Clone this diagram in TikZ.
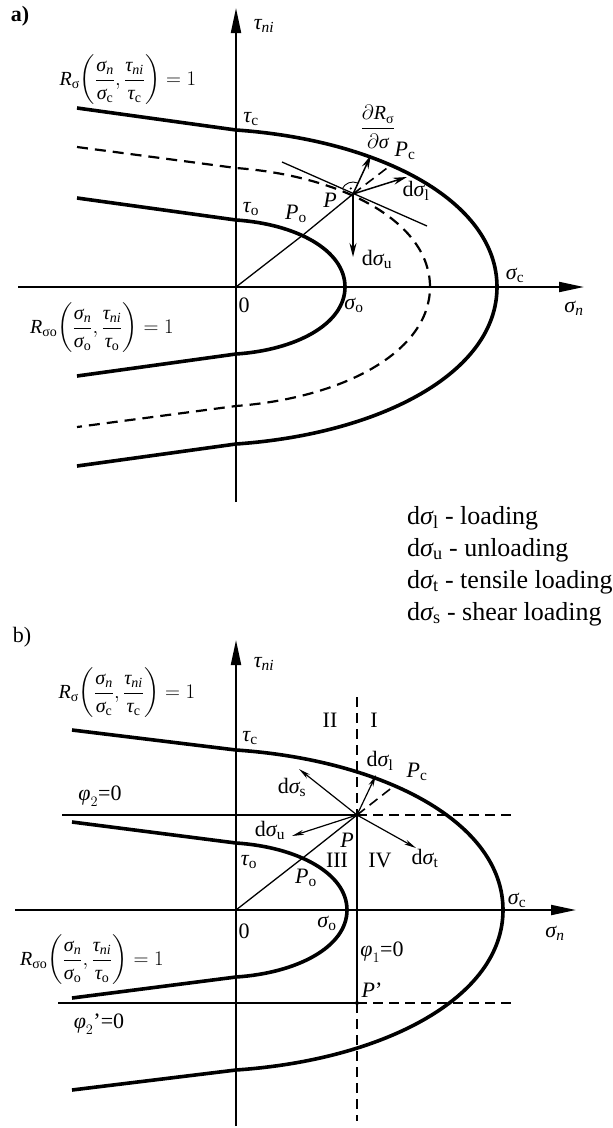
\documentclass[tikz,border=0pt]{standalone}
\usepackage{amsmath}
\usepackage{fontspec}
\setmainfont{Liberation Serif}
\usetikzlibrary{arrows.meta}
\newcommand\lbl{\fontsize{22}{26}\selectfont}
\newcommand\frm{\fontsize{20}{24}\selectfont}
\newcommand\lgd{\fontsize{26}{31}\selectfont}
\newcommand\Gs{\text{\itshape σ}}
\newcommand\Gt{\text{\itshape τ}}
\newcommand\Gf{\text{\itshape φ}}
\newcommand\Ri{\text{\itshape R}}
\newcommand\sub[1]{_{\text{#1}}}
\newcommand\isub[1]{_{\text{\itshape #1}}}
\tikzset{
  lab/.style={inner sep=0pt, font=\lbl},
  formula/.style={inner sep=0pt, font=\frm},
  legend/.style={inner sep=0pt, font=\lgd, anchor=west},
  thickcurve/.style={line width=3.6pt, line join=round},
  dashcurve/.style={line width=2.2pt, dash pattern=on 11pt off 7pt},
  axis/.style={line width=2pt, -{Triangle[length=25pt,width=10pt]}},
  thinline/.style={line width=1.3pt},
  dashline/.style={line width=1.6pt, dash pattern=on 10pt off 6pt},
  vec/.style={line width=1.5pt, -{Stealth[length=14pt,width=7pt]}},
  vecb/.style={line width=1.2pt, -{Stealth[length=12pt,width=5pt]}},
  dot/.style={circle, fill, inner sep=0pt, minimum size=4pt}
}
\begin{document}
\begin{tikzpicture}[x=1pt,y=-1pt]
\useasboundingbox (0,0) rectangle (613,1128);
% ================= panel a =================
\node[lab,font=\lbl\bfseries] (alabel) at (20,16) {a)};
\coordinate (aO) at (236,287);
\coordinate (aXs) at (18,287);
\coordinate (aXe) at (584,287);
\coordinate (aYs) at (236,502);
\coordinate (aYe) at (236,8);
\draw[axis] (aXs) -- (aXe);
\draw[axis] (aYs) -- (aYe);
% outer curve
\coordinate (aOtu) at (77,108);
\coordinate (aOt) at (236,130);
\coordinate (aOs) at (497,287);
\coordinate (aOb) at (236,444);
\coordinate (aOtl) at (77,466);
\draw[thickcurve] (aOtu) -- (aOt) .. controls (380,140) and (497,201) .. (aOs)
  .. controls (497,373) and (380,434) .. (aOb) -- (aOtl);
% dashed curve
\coordinate (aDtu) at (77,147);
\coordinate (aDt) at (236,168);
\coordinate (aDs) at (430,287);
\coordinate (aDb) at (236,406);
\coordinate (aDtl) at (77,427);
\draw[dashcurve] (aDtu) -- (aDt) .. controls (343,176) and (430,222) .. (aDs)
  .. controls (430,352) and (343,398) .. (aDb) -- (aDtl);
% inner curve
\coordinate (aItu) at (77,198);
\coordinate (aIt) at (236,220);
\coordinate (aIs) at (345,287);
\coordinate (aIb) at (236,354);
\coordinate (aItl) at (77,376);
\draw[thickcurve] (aItu) -- (aIt) .. controls (296,224) and (345,250) .. (aIs)
  .. controls (345,324) and (296,350) .. (aIb) -- (aItl);
% points
\coordinate (aP) at (353,194);
\coordinate (aPo) at (303,235);
\coordinate (aPc) at (391,165);
\coordinate (aT1) at (282,162);
\coordinate (aT2) at (427,226);
\coordinate (aN) at (371,155);
\coordinate (aL) at (407,177);
\coordinate (aU) at (353,257);
\draw[thinline] (aO) -- (aPo) -- (aP);
\draw[dashline] (aP) -- (aPc);
\draw[thinline] (aT1) -- (aT2);
\draw[vec] (aP) -- (aN);
\draw[vec] (aP) -- (aL);
\draw[vec] (aP) -- (aU);
\draw[line width=0.9pt] ([shift={(156.2:12pt)}]aP) arc[start angle=156.2,end angle=66.2,radius=12pt];
\fill ([shift={(111:6pt)}]aP) circle (1.2pt);
% labels a
\node[formula] (aRs) at (128,80) {$\Ri\sub{σ}\!\left(\dfrac{\Gs\isub{n}}{\Gs\sub{c}},\dfrac{\Gt\isub{ni}}{\Gt\sub{c}}\right)=1$};
\node[formula] (aRso) at (102,328) {$\Ri\sub{σo}\!\left(\dfrac{\Gs\isub{n}}{\Gs\sub{o}},\dfrac{\Gt\isub{ni}}{\Gt\sub{o}}\right)=1$};
\node[lab] (atau) at (264,26) {$\Gt\isub{ni}$};
\node[lab] (ataoc) at (251,119) {$\Gt\sub{c}$};
\node[lab] (ataoo) at (251,209) {$\Gt\sub{o}$};
\node[lab] (aPol) at (296,214) {$\text{\itshape P}\sub{o}$};
\node[lab] (aPl) at (330,200) {$\text{\itshape P}$};
\node[lab] (aPcl) at (405,151) {$\text{\itshape P}\sub{c}$};
\node[formula] (adR) at (378,127) {$\dfrac{\partial \Ri\sub{σ}}{\partial\Gs}$};
\node[lab] (adl) at (416,191) {$\text{d}\Gs\sub{l}$};
\node[lab] (adu) at (377,259) {$\text{d}\Gs\sub{u}$};
\node[lab] (asc) at (515,275) {$\Gs\sub{c}$};
\node[lab] (aso) at (354,305) {$\Gs\sub{o}$};
\node[lab] (azero) at (244,305) {0};
\node[lab] (asn) at (574,308) {$\Gs\isub{n}$};
% legend
\node[legend] (leg1) at (407,518) {$\text{d}\Gs\sub{l}$ - loading};
\node[legend] (leg2) at (407,550) {$\text{d}\Gs\sub{u}$ - unloading};
\node[legend] (leg3) at (407,582) {$\text{d}\Gs\sub{t}$ - tensile loading};
\node[legend] (leg4) at (407,614) {$\text{d}\Gs\sub{s}$ - shear loading};
% ================= panel b =================
\node[lab] (blabel) at (22,637) {b)};
\coordinate (bO) at (236,910);
\coordinate (bXs) at (15,910);
\coordinate (bXe) at (576,910);
\coordinate (bYs) at (236,1126);
\coordinate (bYe) at (236,640);
\draw[axis] (bXs) -- (bXe);
\draw[axis] (bYs) -- (bYe);
% outer
\coordinate (bOtu) at (72,730);
\coordinate (bOt) at (236,750);
\coordinate (bOs) at (503,910);
\coordinate (bOb) at (236,1070);
\coordinate (bOtl) at (72,1090);
\draw[thickcurve] (bOtu) -- (bOt) .. controls (383,760) and (503,822) .. (bOs)
  .. controls (503,998) and (383,1060) .. (bOb) -- (bOtl);
% inner
\coordinate (bItu) at (72,822);
\coordinate (bIt) at (236,843);
\coordinate (bIs) at (347,910);
\coordinate (bIb) at (236,977);
\coordinate (bItl) at (72,998);
\draw[thickcurve] (bItu) -- (bIt) .. controls (297,847) and (347,873) .. (bIs)
  .. controls (347,947) and (297,973) .. (bIb) -- (bItl);
% points
\coordinate (bP) at (357,815);
\coordinate (bPp) at (357,1003);
\coordinate (bPo) at (304,857);
\coordinate (bPc) at (394,786);
\coordinate (bH1s) at (62,815);
\coordinate (bH1e) at (512,815);
\coordinate (bH2s) at (58,1003);
\coordinate (bH2e) at (513,1003);
\coordinate (bVs) at (357,697);
\coordinate (bVe) at (357,1121);
\draw[thinline] (bH1s) -- (bP);
\draw[dashline] (bP) -- (bH1e);
\draw[thinline] (bH2s) -- (bPp);
\draw[dashline] (bPp) -- (bH2e);
\draw[dashline] (bVs) -- (bP);
\draw[thinline] (bP) -- (bPp);
\draw[dashline] (bPp) -- (bVe);
\draw[thinline] (bO) -- (bPo) -- (bP);
\draw[dashline] (bP) -- (bPc);
\node[dot] (bPdot) at (bP) {};
\node[dot] (bPpdot) at (bPp) {};
\coordinate (bL) at (376,775);
\coordinate (bS) at (299,769);
\coordinate (bU) at (292,836);
\coordinate (bT) at (416,848);
\draw[vecb] (bP) -- (bL);
\draw[vecb] (bP) -- (bS);
\draw[vecb] (bP) -- (bU);
\draw[vecb] (bP) -- (bT);
% labels b
\node[formula] (bRs) at (127,693) {$\Ri\sub{σ}\!\left(\dfrac{\Gs\isub{n}}{\Gs\sub{c}},\dfrac{\Gt\isub{ni}}{\Gt\sub{c}}\right)=1$};
\node[formula] (bRso) at (92,960) {$\Ri\sub{σo}\!\left(\dfrac{\Gs\isub{n}}{\Gs\sub{o}},\dfrac{\Gt\isub{ni}}{\Gt\sub{o}}\right)=1$};
\node[lab] (btau) at (264,664) {$\Gt\isub{ni}$};
\node[lab] (bII) at (330,720) {II};
\node[lab] (bI) at (374,720) {I};
\node[lab] (btc) at (250,738) {$\Gt\sub{c}$};
\node[lab] (bdl) at (380,761) {$\text{d}\Gs\sub{l}$};
\node[lab] (bPcl) at (417,772) {$\text{\itshape P}\sub{c}$};
\node[lab] (bds) at (292,787) {$\text{d}\Gs\sub{s}$};
\node[lab] (bphi2) at (100,796) {$\Gf_2\text{=0}$};
\node[lab] (bdu) at (270,830) {$\text{d}\Gs\sub{u}$};
\node[lab] (bPl) at (347,840) {$\text{\itshape P}$};
\node[lab] (bto) at (249,862) {$\Gt\sub{o}$};
\node[lab] (bIII) at (337,860) {III};
\node[lab] (bIV) at (380,860) {IV};
\node[lab] (bdt) at (425,858) {$\text{d}\Gs\sub{t}$};
\node[lab] (bPol) at (306,878) {$\text{\itshape P}\sub{o}$};
\node[lab] (bsc) at (517,900) {$\Gs\sub{c}$};
\node[lab] (bso) at (327,923) {$\Gs\sub{o}$};
\node[lab] (bzero) at (244,931) {0};
\node[lab] (bsn) at (555,933) {$\Gs\isub{n}$};
\node[lab] (bphi1) at (382,952) {$\Gf_1\text{=0}$};
\node[lab] (bPpl) at (372,990) {$\text{\itshape P}$'};
\node[lab] (bphi2p) at (99,1024) {$\Gf_2\text{'=0}$};
\end{tikzpicture}
\end{document}
